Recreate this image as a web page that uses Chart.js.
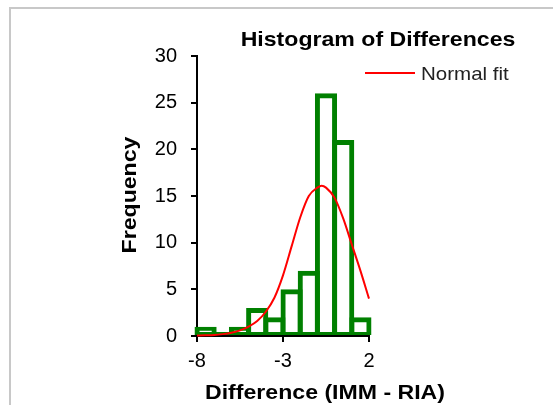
<!DOCTYPE html>
<html>
<head>
<meta charset="utf-8">
<script src="https://cdn.jsdelivr.net/npm/chart.js@4"></script>
<style>
  html, body { margin: 0; padding: 0; background: #fff; }
  #wrap { position: relative; width: 553px; height: 405px; }
  #frame { position: absolute; left: 9px; top: 7px; right: 0; bottom: 0;
           border-left: 2px solid #c8c8c8; border-top: 2px solid #c8c8c8; }
  canvas { position: absolute; left: 0; top: 0; }
</style>
</head>
<body>
<div id="wrap">
  <div id="frame"></div>
  <canvas id="histo" width="553" height="405"></canvas>
</div>
<script>
// bins are 1 wide, centres from -7.5 to 1.5
const binCentres = [-7.5, -6.5, -5.5, -4.5, -3.5, -2.5, -1.5, -0.5, 0.5, 1.5];
const binCounts = [1, 0, 1, 3, 2, 5, 7, 26, 21, 2];

// normal fit
const fitX = [-8, -7.5, -7, -6.5, -6, -5.5, -5, -4.5, -4, -3.5, -3, -2.5, -2, -1.5, -1, -0.75, -0.5, 0, 0.5, 1, 1.5, 2];
const fitY = [0.05, 0.07, 0.1, 0.2, 0.35, 0.6, 1.0, 1.6, 2.6, 4.1, 6.5, 9.6, 12.7, 15.0, 15.9, 16.1, 15.9, 14.8, 12.6, 9.8, 7.0, 4.0];

const xTicks = [-8, -3, 2];
const yTicks = [0, 5, 10, 15, 20, 25, 30];

const chartTitle = 'Histogram of Differences';
const xTitle = 'Difference (IMM - RIA)';
const yTitle = 'Frequency';
const fitLabel = 'Normal fit';

Chart.defaults.font.family = '"Liberation Sans", Arial, sans-serif';
Chart.defaults.color = '#000';

// stretched text like the original picture
function stretchText(ctx, text, x, y, rot) {
  ctx.save();
  ctx.translate(x, y);
  ctx.rotate(rot);
  ctx.scale(1.1, 1);
  ctx.fillText(text, 0, 0);
  ctx.restore();
}

const textPlugin = {
  id: 'texts',
  afterDraw(chart) {
    const ctx = chart.ctx;
    ctx.save();
    ctx.fillStyle = '#000';
    ctx.textAlign = 'center';
    ctx.textBaseline = 'alphabetic';
    ctx.font = 'bold 21px "Liberation Sans", Arial, sans-serif';
    stretchText(ctx, chartTitle, 378, 46, 0);
    stretchText(ctx, xTitle, 325, 399, 0);
    stretchText(ctx, yTitle, 136, 195, -Math.PI / 2);

    // legend
    ctx.strokeStyle = '#ff0000';
    ctx.lineWidth = 2;
    ctx.beginPath();
    ctx.moveTo(365, 73);
    ctx.lineTo(415, 73);
    ctx.stroke();
    ctx.fillStyle = '#222';
    ctx.textAlign = 'left';
    ctx.textBaseline = 'alphabetic';
    ctx.font = '19px "Liberation Sans", Arial, sans-serif';
    ctx.save();
    ctx.translate(421, 80);
    ctx.scale(1.08, 1);
    ctx.fillText(fitLabel, 0, 0);
    ctx.restore();
    ctx.restore();
  }
};

const ctx = document.getElementById('histo').getContext('2d');
const histChart = new Chart(ctx, {
  type: 'bar',
  data: {
    datasets: [
      {
        type: 'line',
        label: fitLabel,
        data: fitX.map((x, i) => ({ x: x, y: fitY[i] })),
        borderColor: '#ff0000',
        borderWidth: 2,
        pointRadius: 0,
        cubicInterpolationMode: 'monotone',
        fill: false,
        clip: false,
        order: 0
      },
      {
        label: 'Frequency',
        data: binCentres.map((x, i) => ({ x: x, y: binCounts[i] })),
        backgroundColor: 'rgba(255,255,255,0)',
        borderColor: '#008000',
        // bars a bit wider than a bin so the outlines sit centred on the bin edges
        borderWidth: { top: 5, left: 5, right: 5, bottom: 3 },
        borderSkipped: false,
        minBarLength: 4,
        barPercentage: 1.29,
        categoryPercentage: 1,
        clip: 4,
        order: 1
      }
    ]
  },
  options: {
    responsive: false,
    animation: false,
    layout: { padding: { left: 137, right: 184, top: 56, bottom: 29 } },
    plugins: {
      legend: { display: false },
      title: { display: false },
      tooltip: { enabled: false }
    },
    scales: {
      x: {
        type: 'linear',
        min: -8,
        max: 2,
        offset: false,
        afterBuildTicks: (scale) => { scale.ticks = xTicks.map(v => ({ value: v })); },
        afterFit: (scale) => { scale.height = 40; },
        grid: { offset: false, drawOnChartArea: false, drawTicks: true, tickLength: 6, color: '#000', lineWidth: 2 },
        border: { color: '#000', width: 2 },
        ticks: { font: { size: 20 }, color: '#000', padding: 7, maxRotation: 0 }
      },
      y: {
        min: 0,
        max: 30,
        afterBuildTicks: (scale) => { scale.ticks = yTicks.map(v => ({ value: v })); },
        afterFit: (scale) => { scale.width = 60; },
        grid: { drawOnChartArea: false, drawTicks: true, tickLength: 6, color: '#000', lineWidth: 2 },
        border: { color: '#000', width: 2 },
        ticks: { font: { size: 20 }, color: '#000', padding: 14 }
      }
    }
  },
  plugins: [textPlugin]
});
</script>
</body>
</html>
